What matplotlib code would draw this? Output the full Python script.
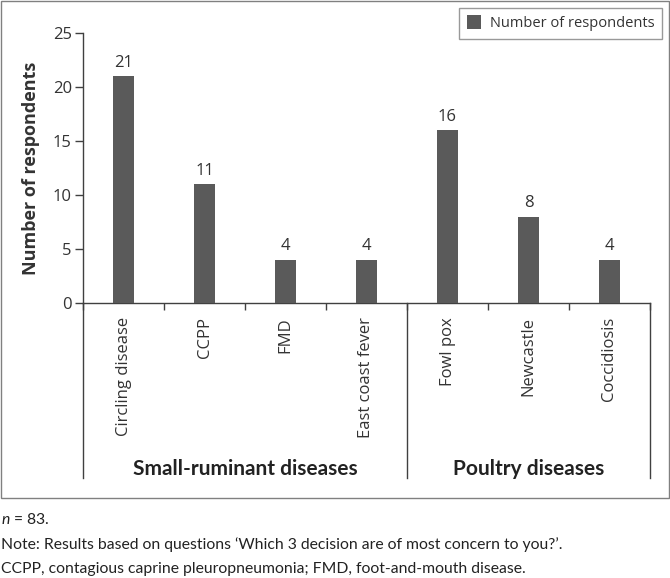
import numpy as np
import matplotlib
matplotlib.use('Agg')
import matplotlib.pyplot as plt
from matplotlib.patches import Rectangle

plt.rcParams['font.family'] = ['Open Sans', 'DejaVu Sans']
plt.rcParams['mathtext.fontset'] = 'custom'
plt.rcParams['mathtext.it'] = 'Lato:italic'
plt.rcParams['mathtext.rm'] = 'Lato'

# data
diseases = ['Circling disease', 'CCPP', 'FMD', 'East coast fever',
            'Fowl pox', 'Newcastle', 'Coccidiosis']
respondents = [21, 11, 4, 4, 16, 8, 4]
groups = ['Small-ruminant diseases', 'Poultry diseases']
group_sizes = [4, 3]
yticks = [0, 5, 10, 15, 20, 25]

bar_col = '#5a5a5a'
txt_col = '#333333'
line_col = '#404040'

fig = plt.figure(figsize=(6.7, 5.78), dpi=100)
ax = fig.add_axes([83/670, 1 - 303/578, (650-83)/670, 270/578])

x = np.arange(len(diseases))
bars = ax.bar(x, respondents, width=0.26, color=bar_col, label='Number of respondents', zorder=3)
for xi, v in zip(x, respondents):
    ax.annotate(str(v), (xi, v), xytext=(0, 4), textcoords='offset points',
                ha='center', va='bottom', fontsize=12, color=txt_col)

ax.set_xlim(-0.5, len(diseases) - 0.5)
ax.set_ylim(0, 25)
ax.set_yticks(yticks)
ax.tick_params(axis='y', length=6, width=1, color=line_col, labelsize=12, labelcolor=txt_col, pad=2)
ax.set_ylabel('Number of respondents', fontsize=13, fontweight='bold', color=txt_col, labelpad=9)

ax.set_xticks(x)
ax.set_xticklabels(diseases, rotation=90, va='top', fontsize=12, color=txt_col)
ax.tick_params(axis='x', which='major', length=0, pad=10)
bounds = np.arange(len(diseases) + 1) - 0.5
ax.set_xticks(bounds, minor=True)
ax.tick_params(axis='x', which='minor', length=5, width=1, color=line_col, direction='out')

for s in ['top', 'right']:
    ax.spines[s].set_visible(False)
for s in ['left', 'bottom']:
    ax.spines[s].set_color(line_col)
    ax.spines[s].set_linewidth(1)

# group separators and labels
trans = ax.get_xaxis_transform()
edges = np.concatenate([[0], np.cumsum(group_sizes)]) - 0.5
for e in edges:
    ax.plot([e, e], [0, -0.648], transform=trans, color=line_col, lw=1, clip_on=False)
for g, a, b in zip(groups, edges[:-1], edges[1:]):
    ax.text((a + b) / 2, -0.615, g, transform=trans, ha='center', va='center',
            fontsize=15, fontweight='bold', color='#222222', family=['Lato', 'DejaVu Sans'])

leg = ax.legend(loc='upper right', bbox_to_anchor=(662/670, 1 - 8/578), bbox_transform=fig.transFigure,
                borderaxespad=0, fancybox=False, fontsize=10.5, handlelength=1.0, handleheight=1.1,
                borderpad=0.5, handletextpad=0.6)
leg.get_frame().set_edgecolor('#808080')
leg.get_frame().set_linewidth(1)
for t in leg.get_texts():
    t.set_color(txt_col)

# outer box
fig.patches.append(Rectangle((0.5/670, 1 - 498/578), 668/670, 497/578, transform=fig.transFigure,
                             fill=False, edgecolor='#808080', lw=1))

# footnotes
fn = dict(fontsize=11.3, color='#222222', family=['Lato', 'DejaVu Sans'], ha='left', va='center')
fig.text(1/670, 1 - 519/578, '$n$ = 83.', **fn)
fig.text(1/670, 1 - 545/578, 'Note: Results based on questions \u2018Which 3 decision are of most concern to you?\u2019.', **fn)
fig.text(1/670, 1 - 569/578, 'CCPP, contagious caprine pleuropneumonia; FMD, foot-and-mouth disease.', **fn)

fig.savefig('out.png', dpi=100)
